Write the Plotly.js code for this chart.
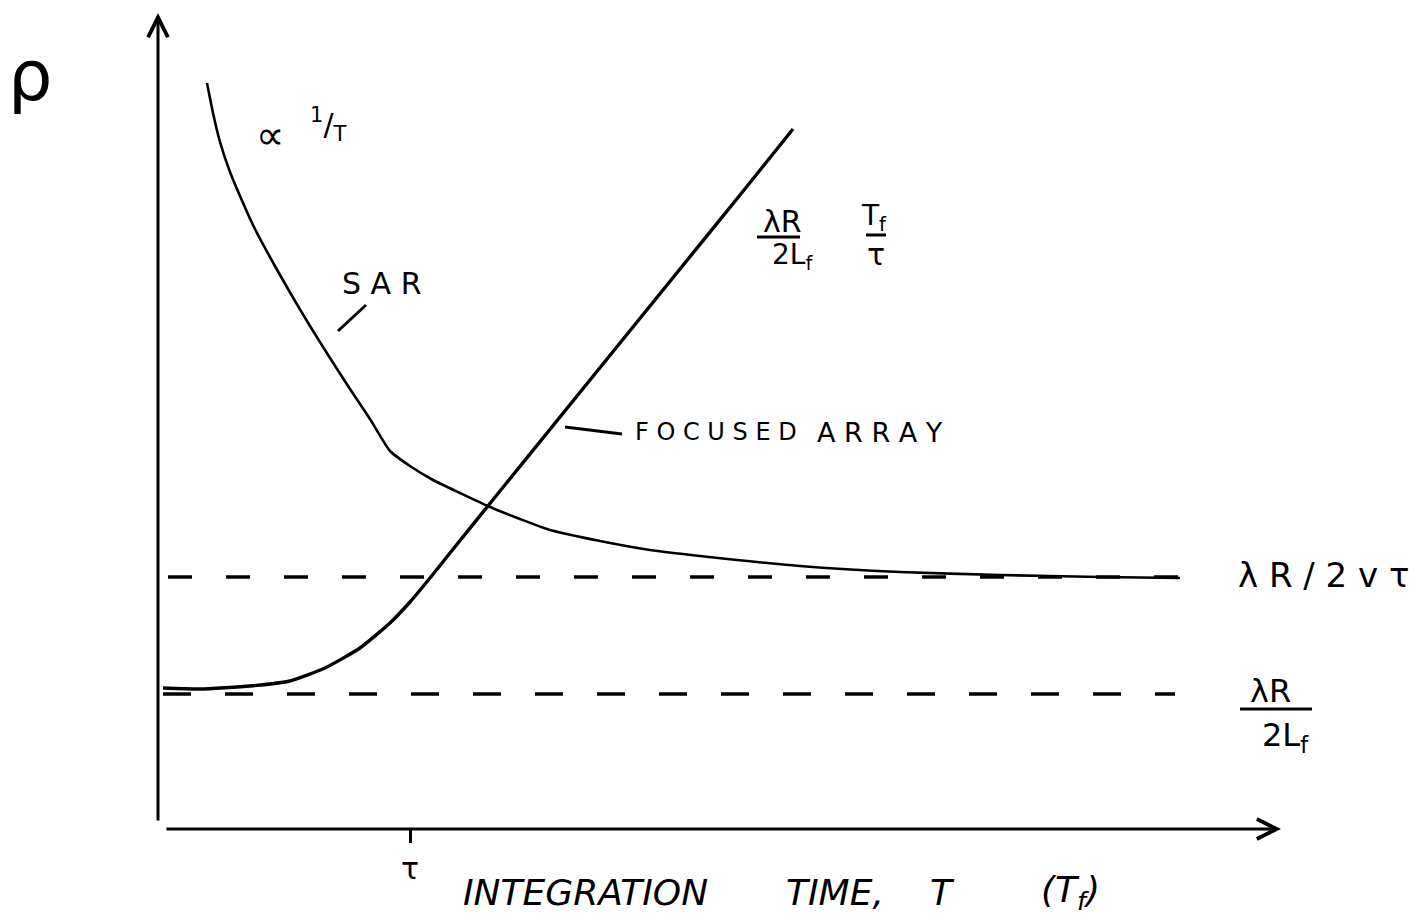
<!DOCTYPE html>
<html>
<head>
<meta charset="utf-8">
<script src="https://cdn.plot.ly/plotly-3.0.1.min.js"></script>
<style>
  html, body { margin: 0; padding: 0; background: #ffffff; }
  #chart { width: 1417px; height: 918px; }
</style>
</head>
<body>
<div id="chart"></div>
<script>
// ---- Data (integration time T in units of tau; resolution rho in arbitrary units) ----
const sarT   = [0.188, 0.212, 0.24, 0.28, 0.32, 0.372, 0.42, 0.48, 0.54, 0.60, 0.68, 0.76, 0.84, 0.92, 1.00, 1.092, 1.20, 1.32, 1.44, 1.56, 1.76, 1.96, 2.16, 2.56, 2.96, 3.36, 3.76, 4.08];
const sarRho = [7.46, 7.16, 6.87, 6.57, 6.33, 6.04, 5.81, 5.54, 5.28, 5.03, 4.71, 4.40, 4.10, 3.78, 3.63, 3.49, 3.36, 3.22, 3.10, 2.99, 2.88, 2.79, 2.73, 2.63, 2.57, 2.54, 2.52, 2.51];

const faT   = [0.012, 0.16, 0.36, 0.52, 0.66, 0.80, 0.92, 1.00, 1.08, 1.16, 1.36, 1.60, 1.84, 2.08, 2.32, 2.532];
const faRho = [1.41, 1.40, 1.43, 1.48, 1.61, 1.81, 2.06, 2.27, 2.51, 2.76, 3.38, 4.12, 4.86, 5.60, 6.34, 7.00];

const sarLimitT   = [0.032, 4.08];   // lambda R / 2 v tau
const sarLimitRho = [2.52, 2.52];
const faFloorT    = [0.012, 4.06];   // lambda R / 2 L_f
const faFloorRho  = [1.35, 1.35];

const tickVals   = [1];
const tickLabels = ['τ'];

// ---- Traces ----
const ink = '#000000';
const traces = [
  { x: sarT, y: sarRho, type: 'scatter', mode: 'lines', name: 'SAR',
    line: { color: ink, width: 2.6, shape: 'spline', smoothing: 0.5 } },
  { x: faT, y: faRho, type: 'scatter', mode: 'lines', name: 'Focused array',
    line: { color: ink, width: 3.4, shape: 'spline', smoothing: 0.5 } },
  { x: sarLimitT, y: sarLimitRho, type: 'scatter', mode: 'lines', name: 'λR/2vτ',
    line: { color: ink, width: 3.5, dash: '24px,34px' } },
  { x: faFloorT, y: faFloorRho, type: 'scatter', mode: 'lines', name: 'λR/2Lf',
    line: { color: ink, width: 3.5, dash: '28px,34px' } }
];

const F = 'DejaVu Sans, Liberation Sans, sans-serif';
function txt(x, y, text, size, extra) {
  return Object.assign({ x: x, y: y, xref: 'x', yref: 'y', text: text, showarrow: false,
    font: { family: F, size: size, color: ink }, xanchor: 'center', yanchor: 'middle' }, extra || {});
}
function axisArrow(x0, y0, x1, y1) {
  return { x: x1, y: y1, ax: x0, ay: y0, xref: 'x', yref: 'y', axref: 'x', ayref: 'y',
    text: '', showarrow: true, arrowhead: 5, arrowsize: 1.3, arrowwidth: 3, arrowcolor: ink, standoff: 0 };
}
function seg(x0, y0, x1, y1, w) {
  return { type: 'line', xref: 'x', yref: 'y', x0: x0, y0: y0, x1: x1, y1: y1, line: { color: ink, width: w } };
}

const annotations = [
  // axes with arrow heads
  axisArrow(-0.008, 0.07, -0.008, 8.16),
  axisArrow(0.02, 0.0, 4.484, 0.0),
  // rho
  txt(-0.52, 7.53, 'ρ', 70),
  // proportional to 1/T
  txt(0.44, 6.94, '∝', 40),
  txt(0.67, 7.05, '<sup>1</sup>/<sub>T</sub>', 30),
  // SAR label
  txt(0.884, 5.46, 'S A R', 30),
  // focused array label
  txt(1.89, 3.97, 'F O C U S E D', 24, { xanchor: 'left' }),
  txt(2.62, 3.97, 'A R R A Y', 27, { xanchor: 'left' }),
  // slope label of focused array
  txt(2.49, 6.08, 'λR', 30),
  txt(2.53, 5.73, '2L<sub>f</sub>', 28),
  txt(2.855, 6.12, 'T<sub>f</sub>', 28),
  txt(2.864, 5.75, 'τ', 30),
  // right-hand level labels
  txt(4.304, 2.54, 'λ R / 2 v τ', 34, { xanchor: 'left' }),
  txt(4.44, 1.38, 'λR', 32),
  txt(4.5, 0.92, '2L<sub>f</sub>', 32),
  // x axis title
  txt(1.70, -0.63, '<i>INTEGRATION</i>', 36),
  txt(2.70, -0.63, '<i>TIME,</i>', 36),
  txt(3.128, -0.63, '<i>T</i>', 36),
  txt(3.64, -0.63, '<i>(T<sub>f</sub>)</i>', 36)
];

const shapes = [
  // fraction bars
  seg(2.388, 5.92, 2.56, 5.92, 3),
  seg(2.824, 5.94, 2.904, 5.94, 3),
  seg(4.32, 1.20, 4.608, 1.20, 3),
  // label leaders
  seg(0.712, 4.98, 0.824, 5.24, 3),
  seg(1.62, 4.02, 1.848, 3.95, 3)
];

const layout = {
  width: 1417, height: 918,
  margin: { l: 0, r: 0, t: 0, b: 0 },
  paper_bgcolor: '#ffffff', plot_bgcolor: '#ffffff',
  showlegend: false, hovermode: false,
  xaxis: {
    range: [-0.64, 5.028], showgrid: false, zeroline: false, showline: false,
    anchor: 'free', position: 0.09695,
    tickmode: 'array', tickvals: tickVals, ticktext: tickLabels,
    ticks: 'outside', ticklen: 13, tickwidth: 3, tickcolor: ink,
    tickfont: { family: F, size: 30, color: ink }, fixedrange: true
  },
  yaxis: {
    range: [-0.89, 8.29], showgrid: false, zeroline: false, showline: false,
    showticklabels: false, ticks: '', fixedrange: true
  },
  annotations: annotations,
  shapes: shapes
};

Plotly.newPlot('chart', traces, layout, { displayModeBar: false, staticPlot: true });
</script>
</body>
</html>
